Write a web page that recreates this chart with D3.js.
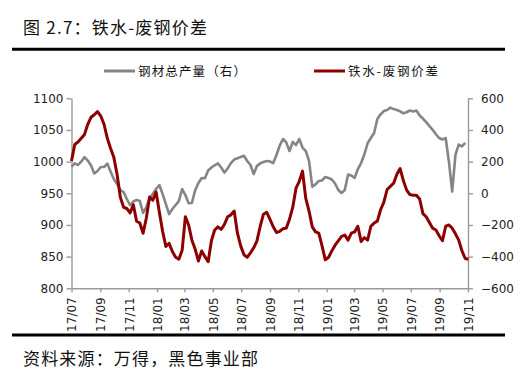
<!DOCTYPE html>
<html lang="zh">
<head>
  <meta charset="utf-8">
  <title>铁水-废钢价差</title>
  <style>
    body { margin: 0; background: #fff; }
    svg { display: block; }
    .axis text { font: 12px "DejaVu Sans", sans-serif; fill: #222; }
    .axis path, .axis line { stroke: #9a9a9a; stroke-width: 1.4; fill: none; }
    .cjk { font-family: "Noto Sans CJK SC", sans-serif; fill: #111; }
  </style>
</head>
<body>
<div id="chart"></div>
<script src="https://d3js.org/d3.v7.min.js"></script>
<script>
  // weekly series, first week 2017-07-01
  const firstWeek = new Date(2017, 6, 1);
  const seriesNames = ["钢材总产量（右）", "铁水-废钢价差"];
  const seriesColors = ["#858585", "#8c0000"];

  // 铁水-废钢价差 (left axis)
  const spread = [
    1001, 1027, 1031, 1037, 1043, 1059, 1070, 1074, 1079, 1072,
    1059, 1037, 1021, 1007, 980, 944, 928, 926, 919, 932,
    906, 903, 887, 911, 944, 939, 952, 920, 890, 866,
    871, 858, 849, 846, 860, 913, 900, 876, 862, 843,
    859, 850, 842, 875, 892, 897, 893, 901, 913, 916,
    922, 887, 867, 853, 849, 856, 864, 875, 898, 917,
    920, 909, 897, 888, 890, 894, 895, 909, 928, 958,
    969, 985, 942, 922, 897, 889, 887, 867, 845, 849,
    859, 868, 875, 882, 884, 876, 887, 889, 898, 874,
    880, 876, 898, 903, 906, 924, 936, 956, 961, 966,
    980, 989, 970, 955, 948, 947, 947, 941, 918, 913,
    904, 895, 892, 883, 875, 898, 900, 895, 886, 876,
    859, 847, 846
  ];

  // 钢材总产量 (right axis)
  const output = [
    168, 189, 179, 200, 229, 207, 176, 125, 141, 166,
    166, 188, 138, 90, 59, 21, 8, -36, -74, -52,
    -42, -49, -124, -87, -30, -4, 27, 52, -4, -68,
    -131, -99, -74, -49, 27, -11, -63, -61, 18, 65,
    97, 95, 144, 163, 177, 189, 163, 131, 157, 191,
    213, 221, 229, 237, 204, 179, 122, 172, 189, 198,
    204, 201, 191, 242, 302, 343, 321, 267, 324, 305,
    343, 289, 267, 204, 42, 56, 78, 81, 103, 97,
    87, 62, 21, 2, 21, 119, 112, 97, 153, 191,
    245, 316, 349, 381, 469, 499, 520, 526, 541, 532,
    526, 518, 505, 512, 523, 517, 523, 491, 472, 450,
    425, 401, 373, 349, 340, 349, 198, 10, 242, 308,
    296, 318
  ];

  const leftTicks = [800, 850, 900, 950, 1000, 1050, 1100];
  const rightTicks = [-600, -400, -200, 0, 200, 400, 600];

  const width = 525, height = 387;
  const plot = { left: 71.5, right: 468, top: 98.3, bottom: 288.3 };

  const svg = d3.select("#chart").append("svg")
    .attr("width", width)
    .attr("height", height);

  const weekDate = i => d3.timeDay.offset(firstWeek, i * 7);

  const x = d3.scaleTime()
    .domain([firstWeek, new Date(2019, 10, 1)])
    .range([plot.left, plot.right]);

  const yLeft = d3.scaleLinear().domain([800, 1100]).range([plot.bottom, plot.top]);
  const yRight = d3.scaleLinear().domain([-600, 600]).range([plot.bottom, plot.top]);

  // title and rules
  svg.append("text").attr("class", "cjk")
    .attr("x", 23).attr("y", 33.5)
    .attr("font-size", 17)
    .attr("textLength", 184).attr("lengthAdjust", "spacing")
    .text("图 2.7：铁水-废钢价差");

  svg.append("line")
    .attr("x1", 12).attr("x2", 505).attr("y1", 49.3).attr("y2", 49.3)
    .attr("stroke", "#000").attr("stroke-width", 3);

  svg.append("line")
    .attr("x1", 12).attr("x2", 505).attr("y1", 335).attr("y2", 335)
    .attr("stroke", "#000").attr("stroke-width", 3);

  svg.append("text").attr("class", "cjk")
    .attr("x", 23).attr("y", 365)
    .attr("font-size", 17)
    .attr("textLength", 235).attr("lengthAdjust", "spacing")
    .text("资料来源：万得，黑色事业部");

  // axes
  const xAxis = svg.append("g").attr("class", "axis")
    .attr("transform", `translate(0,${plot.bottom})`)
    .call(d3.axisBottom(x)
      .ticks(d3.timeMonth.every(2))
      .tickFormat(d3.timeFormat("%y/%m"))
      .tickSize(4)
      .tickSizeOuter(0));

  xAxis.selectAll("text")
    .attr("transform", "rotate(-90)")
    .attr("x", -9)
    .attr("y", 0)
    .attr("dy", "0.36em")
    .style("text-anchor", "end");

  svg.append("g").attr("class", "axis")
    .attr("transform", `translate(${plot.left},0)`)
    .call(d3.axisLeft(yLeft).tickValues(leftTicks).tickFormat(d3.format("d"))
      .tickSize(5).tickSizeOuter(0).tickPadding(3));

  svg.append("g").attr("class", "axis")
    .attr("transform", `translate(${plot.right},0)`)
    .call(d3.axisRight(yRight).tickValues(rightTicks).tickFormat(d3.format("d"))
      .tickSize(5).tickSizeOuter(0).tickPadding(8));

  // lines
  const grayLine = d3.line()
    .x((d, i) => x(weekDate(i)))
    .y(d => yRight(d));

  const redLine = d3.line()
    .x((d, i) => x(weekDate(i)))
    .y(d => yLeft(d));

  svg.append("path")
    .datum(output)
    .attr("d", grayLine)
    .attr("fill", "none")
    .attr("stroke", seriesColors[0])
    .attr("stroke-width", 2.6)
    .attr("stroke-linejoin", "round");

  svg.append("path")
    .datum(spread)
    .attr("d", redLine)
    .attr("fill", "none")
    .attr("stroke", seriesColors[1])
    .attr("stroke-width", 3)
    .attr("stroke-linejoin", "round");

  // legend
  const legendPos = [
    { x: 104, textLen: 108 },
    { x: 314, textLen: 90 }
  ];
  const legend = svg.append("g");
  seriesNames.forEach((name, i) => {
    const p = legendPos[i];
    legend.append("line")
      .attr("x1", p.x).attr("x2", p.x + 31)
      .attr("y1", 71).attr("y2", 71)
      .attr("stroke", seriesColors[i])
      .attr("stroke-width", 3);
    legend.append("text").attr("class", "cjk")
      .attr("x", p.x + 34).attr("y", 76)
      .attr("font-size", 12.5)
      .attr("fill", "#333")
      .attr("textLength", p.textLen).attr("lengthAdjust", "spacing")
      .text(name);
  });
</script>
</body>
</html>
